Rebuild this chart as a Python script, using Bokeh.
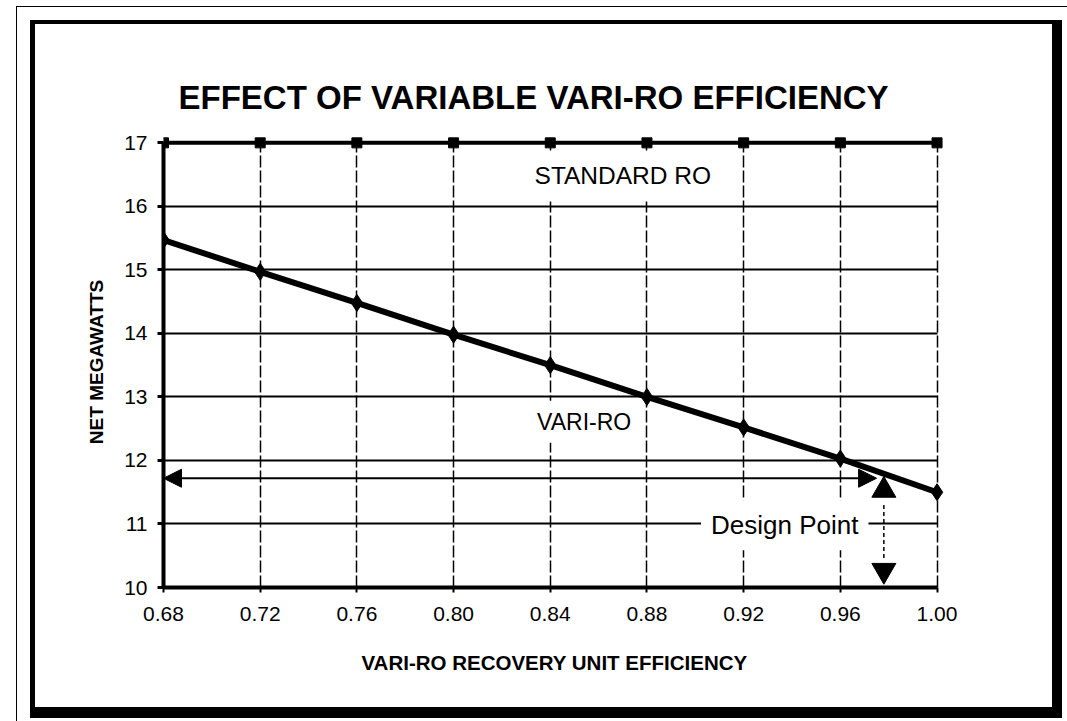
from bokeh.plotting import figure
from bokeh.models import Label, Arrow, NormalHead, FixedTicker, Range1d, NumeralTickFormatter
from bokeh.embed import file_html
from bokeh.resources import INLINE

# ---------------- data ----------------
efficiency = [0.68, 0.72, 0.76, 0.80, 0.84, 0.88, 0.92, 0.96, 1.00]
standard_ro = [17.0, 17.0, 17.0, 17.0, 17.0, 17.0, 17.0, 17.0, 17.0]
vari_ro = [15.47, 14.97, 14.48, 13.98, 13.50, 13.00, 12.52, 12.03, 11.50]
y_ticks = [10, 11, 12, 13, 14, 15, 16, 17]
design_eff = 0.975
design_mw = 11.72

title_text = "EFFECT OF VARIABLE VARI-RO EFFICIENCY"
x_title = "VARI-RO RECOVERY UNIT EFFICIENCY"
y_title = "NET MEGAWATTS"

FONT = "Liberation Sans"
W, H = 1017, 683

p = figure(width=W, height=H, output_backend="svg", toolbar_location=None,
           x_range=Range1d(0.68, 1.0035), y_range=Range1d(10, 17.1),
           min_border_left=128, min_border_right=122,
           min_border_top=112, min_border_bottom=135,
           styles={"box-sizing": "content-box",
                   "margin-left": "30px", "margin-top": "20px",
                   "border-left": "5px solid black", "border-top": "4px solid black",
                   "border-right": "10px solid black", "border-bottom": "11px solid black",
                   "outline": "1.5px solid black", "outline-offset": "13px"})
p.outline_line_color = None
p.background_fill_color = "white"
p.border_fill_color = "white"

# title
p.title.text = title_text
p.title.align = "left"
p.title.offset = 15
p.title.standoff = 42
p.title.text_font = FONT
p.title.text_font_style = "bold"
p.title.text_font_size = "33px"
p.title.text_color = "black"

# axes
for ax in (p.xaxis, p.yaxis):
    ax.axis_line_width = 4
    ax.axis_line_color = "black"
    ax.major_tick_in = 0
    ax.minor_tick_line_color = None
    ax.major_label_text_font = FONT
    ax.major_label_text_font_size = "21px"
    ax.major_label_text_color = "black"
    ax.axis_label_text_font = FONT
    ax.axis_label_text_font_style = "bold"
    ax.axis_label_text_color = "black"

p.xaxis.ticker = FixedTicker(ticks=efficiency)
p.xaxis.formatter = NumeralTickFormatter(format="0.00")
p.xaxis.bounds = (0.68, 1.00)
p.xaxis.major_tick_out = 5
p.xaxis.major_tick_line_width = 2
p.xaxis.major_label_standoff = 14
p.xaxis.axis_label = x_title
p.xaxis.axis_label_text_font_size = "20.5px"
p.xaxis.axis_label_standoff = 27

p.yaxis.ticker = FixedTicker(ticks=y_ticks)
p.yaxis.bounds = (10, 17)
p.yaxis.major_tick_out = 6
p.yaxis.major_tick_line_width = 3
p.yaxis.major_label_standoff = 10
p.yaxis.axis_label = y_title
p.yaxis.axis_label_text_font_size = "19px"
p.yaxis.axis_label_standoff = 14

# grids
p.xgrid.ticker = FixedTicker(ticks=efficiency)
p.xgrid.grid_line_color = "black"
p.xgrid.grid_line_width = 1.5
p.xgrid.grid_line_dash = "12 3"
p.ygrid.ticker = FixedTicker(ticks=y_ticks)
p.ygrid.grid_line_color = "black"
p.ygrid.grid_line_width = 2
if hasattr(p.xgrid[0], "cross_bounds"):
    p.xgrid[0].cross_bounds = (10, 17)
    p.ygrid[0].cross_bounds = (0.68, 1.00)

# series
p.line(efficiency, standard_ro, line_width=4, line_color="black")
p.scatter(efficiency, standard_ro, marker="square", size=10, fill_color="black", line_color="black")
p.line(efficiency, vari_ro, line_width=6, line_color="black")
p.scatter(efficiency, vari_ro, marker="diamond", size=17, fill_color="black", line_color="black")

# design point
p.add_layout(Arrow(x_start=0.68, y_start=design_mw, x_end=design_eff, y_end=design_mw,
                   line_width=2, line_color="black",
                   start=NormalHead(size=18, fill_color="black", line_color="black"),
                   end=NormalHead(size=18, fill_color="black", line_color="black")))
p.scatter([design_eff + 0.003], [11.53], marker="triangle", size=24, fill_color="black", line_color="black")
p.scatter([design_eff + 0.003], [10.27], marker="inverted_triangle", size=24, fill_color="black", line_color="black")
p.segment(x0=[design_eff + 0.003], y0=[11.30], x1=[design_eff + 0.003], y1=[10.42],
          line_width=1.5, line_color="black", line_dash="4 3")

# text labels
p.add_layout(Label(x=0.870, y=16.48, text="STANDARD RO", text_align="center", text_baseline="middle",
                   text_font=FONT, text_font_size="24.5px", text_color="black",
                   background_fill_color="white", padding=12))
p.add_layout(Label(x=0.854, y=12.61, text="VARI-RO", text_align="center", text_baseline="middle",
                   text_font=FONT, text_font_size="23px", text_color="black",
                   background_fill_color="white", padding=8))
p.add_layout(Label(x=0.937, y=10.98, text="Design Point", text_align="center", text_baseline="middle",
                   text_font=FONT, text_font_size="26px", text_color="black",
                   background_fill_color="white", padding=10))

open("out.html", "w").write(file_html(p, INLINE))
